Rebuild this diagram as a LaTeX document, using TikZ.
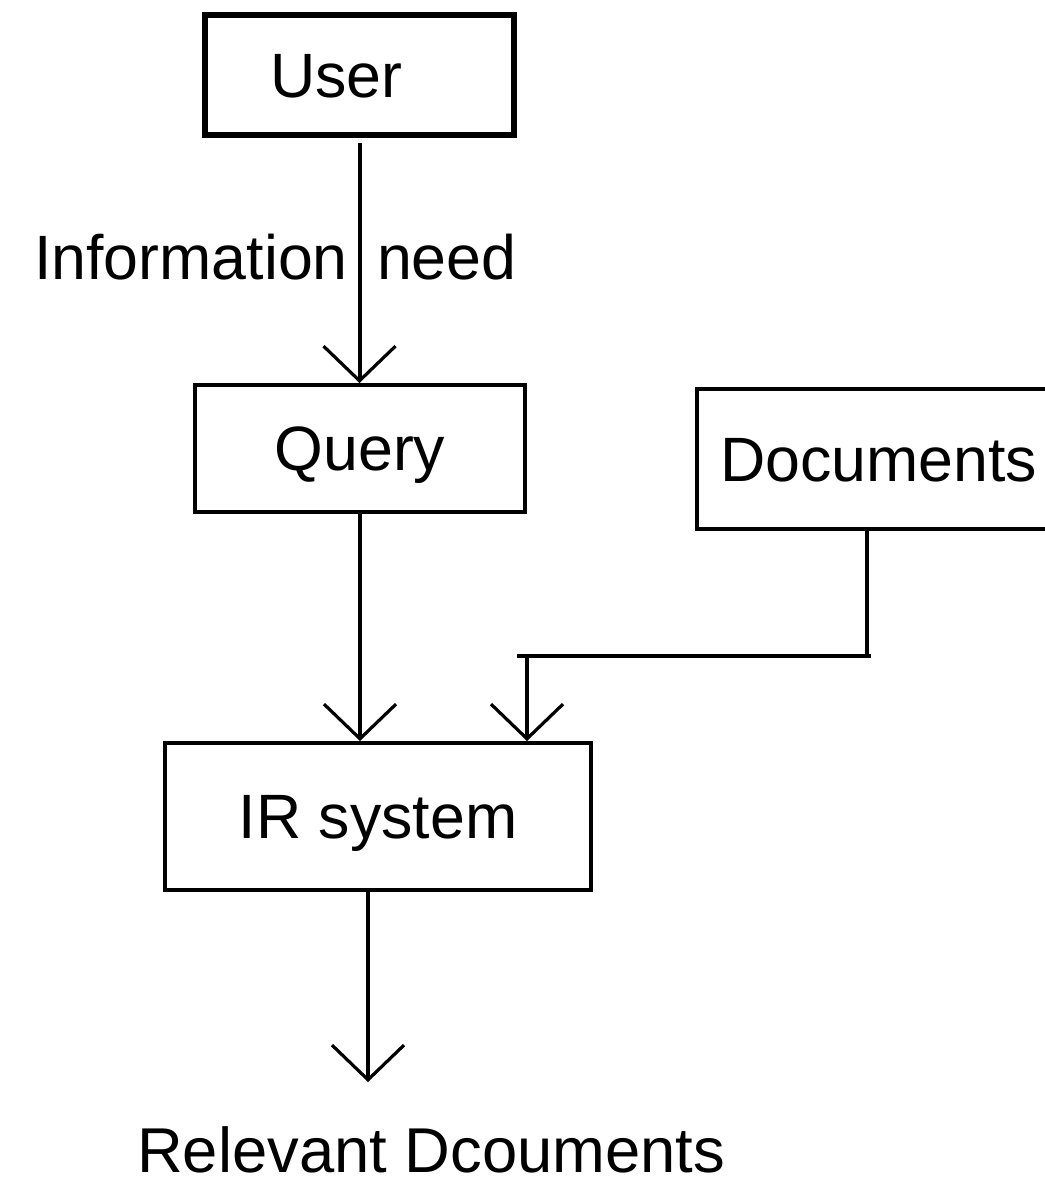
\documentclass[tikz,border=0pt]{standalone}
\usepackage{fontspec}
\setmainfont{Liberation Sans}
\usetikzlibrary{arrows.meta}
\begin{document}
\begin{tikzpicture}[x=0.75pt,y=-0.75pt,
  box/.style={draw, line width=3pt, rectangle, inner sep=0pt, text height=33pt, text depth=0pt, font=\fontsize{47}{50}\selectfont},
  conn/.style={line width=3pt},
  barb/.style={conn, -{Straight Barb[length=26pt,width=54pt,line width=2.4pt]}},
  lbl/.style={inner sep=0pt, font=\fontsize{47}{50}\selectfont}]
\clip (0,0) rectangle (1045,1185);
\fill[white] (0,0) rectangle (1045,1185);
\node[box, line width=4.5pt, minimum width=231.75pt, minimum height=90pt] (user) at (359.5,75) {User\hspace*{34.5pt}};
\node[box, minimum width=247.5pt, minimum height=95.25pt] (query) at (360,448.5) {Query};
\node[box, minimum width=272.25pt, minimum height=104.6pt] (docs) at (878.5,459) {Documents};
\node[box, minimum width=319.5pt, minimum height=110.25pt] (ir) at (378,816.5) {IR system};
\node[lbl, anchor=base west] (need) at (34,279) {Information\hspace{22pt}need};
\node[lbl, anchor=base west, font=\fontsize{47.5}{50}\selectfont] (rel) at (137,1172) {Relevant Dcouments};
\draw[barb, shorten <=3.75pt] (user.south) -- (user.south |- query.north);
\draw[barb] (query.south) -- (query.south |- ir.north);
\coordinate (e1) at (867,656);
\coordinate (e2) at (527,656);
\draw[conn] (docs.south -| e1) -- (e1);
\draw[conn, shorten <=-3pt, shorten >=-7.5pt] (e1) -- (e2);
\draw[barb] (e2) -- (e2 |- ir.north);
\coordinate (out) at (368,1082);
\draw[barb] (ir.south -| out) -- (out);
\end{tikzpicture}
\end{document}
